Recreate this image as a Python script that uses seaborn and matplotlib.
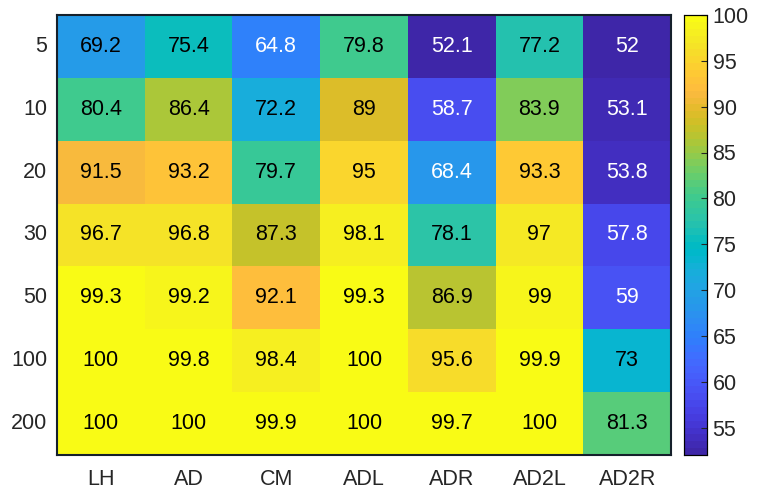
import numpy as np
import pandas as pd
import seaborn as sns
import matplotlib.pyplot as plt
from matplotlib.colors import ListedColormap

rows = ["5", "10", "20", "30", "50", "100", "200"]
cols = ["LH", "AD", "CM", "ADL", "ADR", "AD2L", "AD2R"]

lh = [69.2, 80.4, 91.5, 96.7, 99.3, 100, 100]
ad = [75.4, 86.4, 93.2, 96.8, 99.2, 99.8, 100]
cm = [64.8, 72.2, 79.7, 87.3, 92.1, 98.4, 99.9]
adl = [79.8, 89, 95, 98.1, 99.3, 100, 100]
adr = [52.1, 58.7, 68.4, 78.1, 86.9, 95.6, 99.7]
ad2l = [77.2, 83.9, 93.3, 97, 99, 99.9, 100]
ad2r = [52, 53.1, 53.8, 57.8, 59, 73, 81.3]

# MATLAB parula (64 entries)
parula = [
    [0.2422, 0.1504, 0.6603], [0.2504, 0.1650, 0.7076], [0.2578, 0.1818, 0.7511], [0.2647, 0.1978, 0.7952],
    [0.2706, 0.2147, 0.8364], [0.2751, 0.2342, 0.8710], [0.2783, 0.2559, 0.8991], [0.2803, 0.2782, 0.9221],
    [0.2813, 0.3006, 0.9414], [0.2810, 0.3228, 0.9579], [0.2795, 0.3447, 0.9717], [0.2760, 0.3667, 0.9829],
    [0.2699, 0.3892, 0.9906], [0.2602, 0.4123, 0.9952], [0.2440, 0.4358, 0.9988], [0.2206, 0.4603, 0.9973],
    [0.1963, 0.4847, 0.9892], [0.1834, 0.5074, 0.9798], [0.1786, 0.5289, 0.9682], [0.1764, 0.5499, 0.9520],
    [0.1687, 0.5703, 0.9359], [0.1540, 0.5902, 0.9218], [0.1460, 0.6091, 0.9079], [0.1380, 0.6276, 0.8973],
    [0.1248, 0.6459, 0.8883], [0.1113, 0.6635, 0.8763], [0.0952, 0.6798, 0.8598], [0.0689, 0.6948, 0.8394],
    [0.0297, 0.7082, 0.8163], [0.0036, 0.7203, 0.7917], [0.0067, 0.7312, 0.7660], [0.0433, 0.7411, 0.7394],
    [0.0964, 0.7500, 0.7120], [0.1408, 0.7584, 0.6842], [0.1717, 0.7670, 0.6554], [0.1938, 0.7758, 0.6251],
    [0.2161, 0.7843, 0.5923], [0.2470, 0.7918, 0.5567], [0.2906, 0.7973, 0.5188], [0.3406, 0.8008, 0.4789],
    [0.3909, 0.8029, 0.4354], [0.4456, 0.8024, 0.3909], [0.5044, 0.7993, 0.3480], [0.5616, 0.7942, 0.3045],
    [0.6174, 0.7876, 0.2612], [0.6720, 0.7793, 0.2227], [0.7242, 0.7698, 0.1910], [0.7738, 0.7598, 0.1646],
    [0.8203, 0.7498, 0.1535], [0.8634, 0.7406, 0.1596], [0.9035, 0.7330, 0.1774], [0.9393, 0.7288, 0.2100],
    [0.9728, 0.7298, 0.2394], [0.9956, 0.7434, 0.2371], [0.9970, 0.7659, 0.2199], [0.9952, 0.7893, 0.2028],
    [0.9892, 0.8136, 0.1885], [0.9786, 0.8386, 0.1766], [0.9676, 0.8639, 0.1643], [0.9610, 0.8890, 0.1537],
    [0.9597, 0.9135, 0.1423], [0.9628, 0.9373, 0.1265], [0.9691, 0.9606, 0.1064], [0.9769, 0.9839, 0.0805],
]
cmap = ListedColormap(parula)

df = pd.DataFrame({"LH": lh, "AD": ad, "CM": cm, "ADL": adl, "ADR": adr, "AD2L": ad2l, "AD2R": ad2r}, index=rows)
labels = df.map(lambda v: f"{v:g}")

plt.rcParams["font.family"] = ["Liberation Sans", "DejaVu Sans"]
W, H = 764, 492
fig = plt.figure(figsize=(W / 100, H / 100), dpi=100)
ax = fig.add_axes([57 / W, (H - 455) / H, (671 - 57) / W, (455 - 15) / H])
cax = fig.add_axes([684 / W, (H - 455) / H, (707 - 684) / W, (455 - 15) / H])

sns.heatmap(df, ax=ax, cbar_ax=cax, cmap=cmap, vmin=52, vmax=100, annot=labels, fmt="",
            annot_kws={"fontsize": 15.5}, linewidths=0)

# text colours like MATLAB (white on dark cells)
for t, v in zip(ax.texts, df.values.flatten()):
    t.set_color("white" if v < 69 else "black")

ax.tick_params(axis="y", length=0, labelsize=15.5, colors="#262626", pad=7)
ax.tick_params(axis="x", length=0, labelsize=15.5, colors="#262626", pad=10)
ax.set_yticklabels(rows, rotation=0)
ax.set_xticklabels(cols, rotation=0)
ax.set_xlabel("")
ax.set_ylabel("")
for s in ax.spines.values():
    s.set_visible(True)
    s.set_color("#15202b")
    s.set_linewidth(1.5)

cax.set_yticks(range(55, 101, 5))
cax.tick_params(axis="y", direction="in", length=4, width=0.8, labelsize=15.5, colors="#262626", pad=4)
cax.yaxis.set_ticks_position("right")
for s in cax.spines.values():
    s.set_visible(True)
    s.set_color("black")
    s.set_linewidth(0.8)

fig.savefig("out.png", dpi=100)
